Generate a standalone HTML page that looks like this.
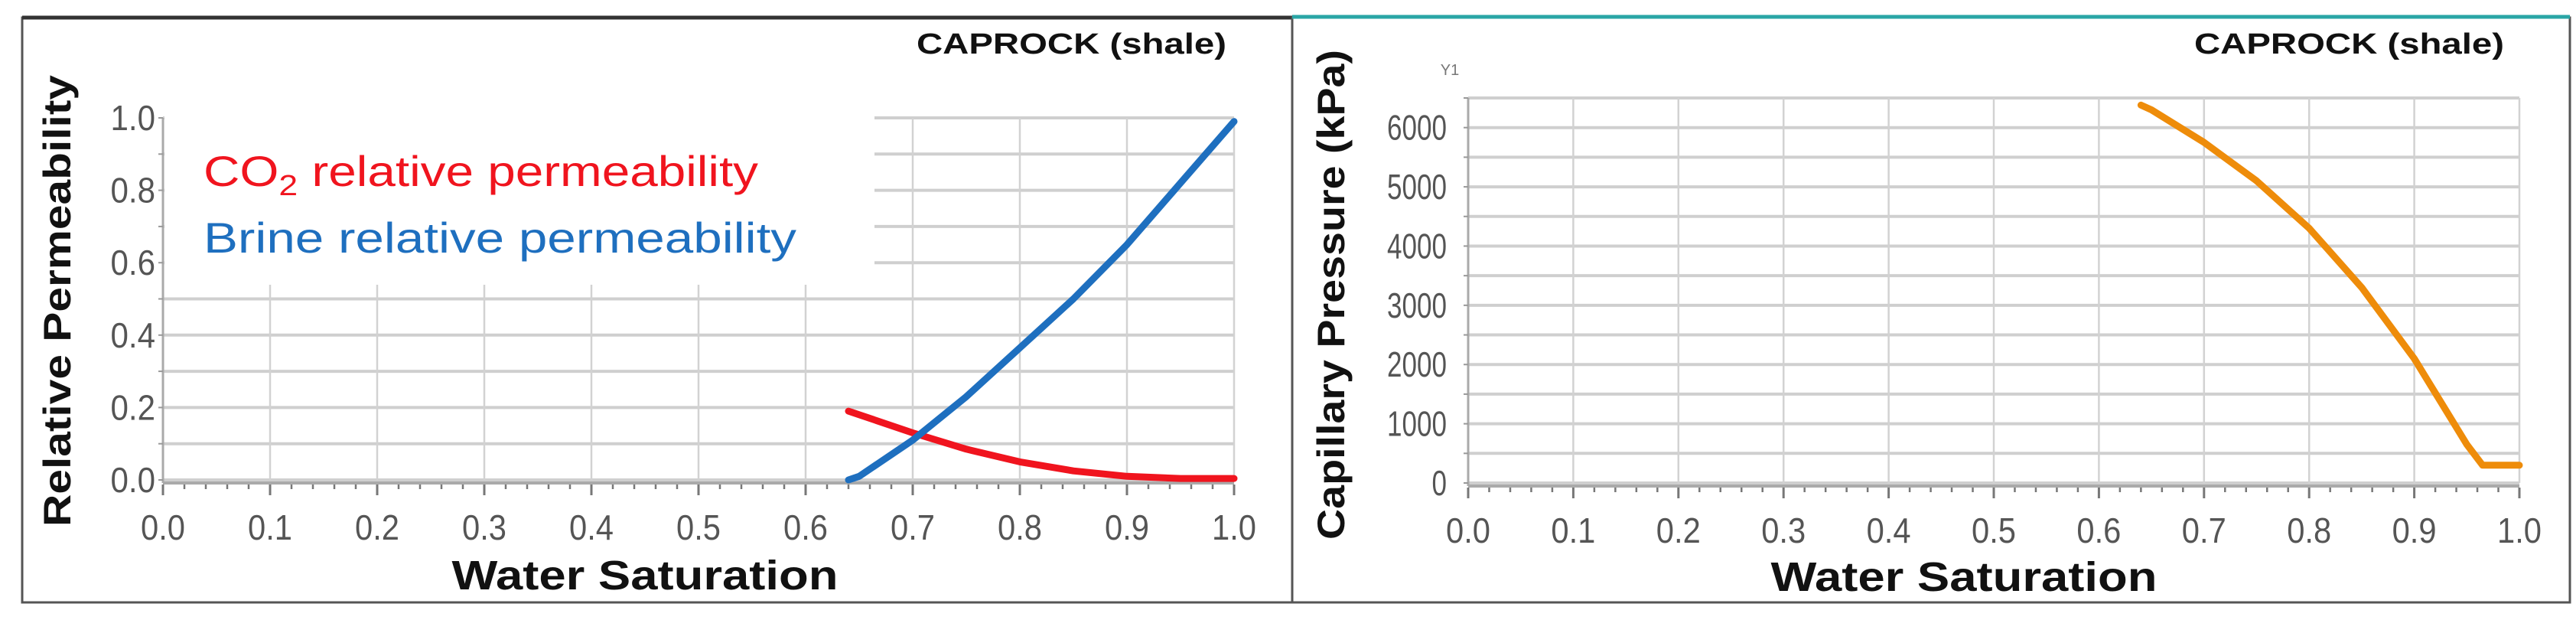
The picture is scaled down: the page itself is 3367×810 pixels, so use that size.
<!DOCTYPE html>
<html><head><meta charset="utf-8">
<style>
html,body{margin:0;padding:0;background:#fff;}
svg{display:block;}
text{font-family:"Liberation Sans",sans-serif;}
</style></head>
<body>
<svg id="root" width="3367" height="810" viewBox="0 0 3367 810" xmlns="http://www.w3.org/2000/svg">
<rect x="0" y="0" width="3367" height="810" fill="#fff"/>
<rect x="29" y="23" width="1660" height="764" fill="none" stroke="#555" stroke-width="3"/>
<line x1="29" y1="23" x2="1689" y2="23" stroke="#333" stroke-width="5"/>
<rect x="1689" y="23" width="1670" height="764" fill="none" stroke="#555" stroke-width="3"/>
<line x1="1689" y1="22" x2="3359" y2="22" stroke="#2aa6a6" stroke-width="5"/>
<g id="left"></g>
<g id="right"></g>
</svg>
<script>
// Left chart data
const krSw = [0.64, 0.65, 0.70, 0.75, 0.80, 0.85, 0.90, 0.95, 1.00];
const krBrine = [0.0, 0.01, 0.11, 0.23, 0.365, 0.50, 0.65, 0.82, 0.99];
const krCO2Sw = [0.64, 0.70, 0.75, 0.80, 0.85, 0.90, 0.95, 1.00];
const krCO2 = [0.19, 0.13, 0.085, 0.05, 0.025, 0.01, 0.004, 0.004];
const leftYTicks = ["0.0","0.2","0.4","0.6","0.8","1.0"];
const xTicks = ["0.0","0.1","0.2","0.3","0.4","0.5","0.6","0.7","0.8","0.9","1.0"];
// Right chart data
const pcSw = [0.64, 0.65, 0.70, 0.75, 0.80, 0.85, 0.90, 0.95, 0.965, 1.00];
const pcVal = [6380, 6300, 5750, 5100, 4300, 3300, 2100, 650, 300, 300];
const rightYTicks = ["0","1000","2000","3000","4000","5000","6000"];

const NS = "http://www.w3.org/2000/svg";
function mk(parent, tag, attrs, txt){
  const e = document.createElementNS(NS, tag);
  for (const k in attrs) e.setAttribute(k, attrs[k]);
  if (txt !== undefined) e.textContent = txt;
  parent.appendChild(e);
  return e;
}

function drawAxes(g, x0, x1, yTop, yBot, ymax, yMinor){
  const sx = v => x0 + (x1 - x0) * v;
  const sy = v => yBot - (yBot - yTop) * v / ymax;
  for (let v = 0; v <= ymax + 1e-9; v += yMinor){
    const l = mk(g, "line", {x1:x0, x2:x1, y1:sy(v), y2:sy(v), stroke:"#cfcfcf", "stroke-width":4});
    
    
  }
  for (let i = 0; i <= 10; i++){
    const l = mk(g, "line", {x1:sx(i/10), x2:sx(i/10), y1:yTop, y2:yBot, stroke:"#d2d2d2", "stroke-width":2.5});
    
    
  }
  return {sx, sy};
}
function drawFrame(g, x0, x1, yTop, yBot, sx, sy, ymax, yStep, yMinor, yTicks, labX){
  mk(g, "line", {x1:x0, x2:x1, y1:yBot+4, y2:yBot+4, stroke:"#aaa", "stroke-width":4});
  mk(g, "line", {x1:x0, x2:x0, y1:yTop, y2:yBot+4, stroke:"#aaa", "stroke-width":3});
  for (let i = 0; i <= 50; i++){
    const major = i % 5 === 0;
    mk(g, "line", {x1:sx(i/50), x2:sx(i/50), y1:yBot+6, y2:yBot+(major?20:12), stroke:"#777", "stroke-width":major?3:2.5});
  }
  for (let v = 0; v <= ymax + 1e-9; v += yMinor){
    mk(g, "line", {x1:x0-6, x2:x0, y1:sy(v), y2:sy(v), stroke:"#999", "stroke-width":2});
  }
  xTicks.forEach((t, i) => {
    const e = mk(g, "text", {x:sx(i/10), y:yBot+78, "text-anchor":"middle", "font-size":46, fill:"#555", textLength:58, lengthAdjust:"spacingAndGlyphs"}, t);
    
    
  });
  yTicks.forEach((t, i) => {
    const e = mk(g, "text", {x:labX, y:sy(i*yStep)+16, "text-anchor":"end", "font-size":46, fill:"#555", textLength:t.length*19.5, lengthAdjust:"spacingAndGlyphs"}, t);
    
    
  });
}
function poly(g, xs, ys, sx, sy, color, name){
  const pts = xs.map((x, i) => sx(x).toFixed(1) + "," + sy(ys[i]).toFixed(1)).join(" ");
  const p = mk(g, "polyline", {points:pts, fill:"none", stroke:color, "stroke-width":9, "stroke-linejoin":"round", "stroke-linecap":"round"});
  
  
}

// LEFT
(function(){
  const g = document.getElementById("left");
  const x0 = 213, x1 = 1613, yTop = 154, yBot = 627;
  const {sx, sy} = drawAxes(g, x0, x1, yTop, yBot, 1.0, 0.1);
  const box = mk(g, "rect", {x:x0+2, y:yTop-4, width:928, height:222, fill:"#fff"});
  
  
  drawFrame(g, x0, x1, yTop, yBot, sx, sy, 1.0, 0.2, 0.1, leftYTicks, 203);
  poly(g, krCO2Sw, krCO2, sx, sy, "#f0141e", "co2-kr-line");
  poly(g, krSw, krBrine, sx, sy, "#1e6fbf", "brine-kr-line");
  const l1 = mk(g, "text", {x:266, y:243, "font-size":56, fill:"#f0141e", textLength:725, lengthAdjust:"spacingAndGlyphs"});
  l1.innerHTML = 'CO<tspan font-size="38" dy="12">2</tspan><tspan dy="-12"> relative permeability</tspan>';
  
  
  const l2 = mk(g, "text", {x:266, y:330, "font-size":56, fill:"#1e6fbf", textLength:775, lengthAdjust:"spacingAndGlyphs"}, "Brine relative permeability");
  
  
  const t = mk(g, "text", {x:1198, y:70, "font-size":38, "font-weight":"bold", fill:"#111", textLength:405, lengthAdjust:"spacingAndGlyphs"}, "CAPROCK (shale)");
  
  
  const yt = mk(g, "text", {x:0, y:0, transform:"translate(92,393) rotate(-90)", "text-anchor":"middle", "font-size":50, "font-weight":"bold", fill:"#111", textLength:590, lengthAdjust:"spacingAndGlyphs"}, "Relative Permeability");
  
  
  const xt = mk(g, "text", {x:843, y:770, "text-anchor":"middle", "font-size":54, "font-weight":"bold", fill:"#111", textLength:505, lengthAdjust:"spacingAndGlyphs"}, "Water Saturation");
  
  
})();

// RIGHT
(function(){
  const g = document.getElementById("right");
  const x0 = 1919, x1 = 3293, yTop = 128, yBot = 631;
  const ymax = 6500;
  const {sx, sy} = drawAxes(g, x0, x1, yTop, yBot, ymax, 500);
  drawFrame(g, x0, x1, yTop, yBot, sx, sy, ymax, 1000, 500, rightYTicks, 1891);
  poly(g, pcSw, pcVal, sx, sy, "#ee8c0a", "capillary-pressure-line");
  const y1 = mk(g, "text", {x:1895, y:98, "font-size":20, fill:"#777", "text-anchor":"middle"}, "Y1");
  
  
  const t = mk(g, "text", {x:2868, y:70, "font-size":38, "font-weight":"bold", fill:"#111", textLength:405, lengthAdjust:"spacingAndGlyphs"}, "CAPROCK (shale)");
  
  
  const yt = mk(g, "text", {x:0, y:0, transform:"translate(1757,385) rotate(-90)", "text-anchor":"middle", "font-size":50, "font-weight":"bold", fill:"#111", textLength:640, lengthAdjust:"spacingAndGlyphs"}, "Capillary Pressure (kPa)");
  
  
  const xt = mk(g, "text", {x:2567, y:772, "text-anchor":"middle", "font-size":54, "font-weight":"bold", fill:"#111", textLength:505, lengthAdjust:"spacingAndGlyphs"}, "Water Saturation");
  
  
})();
</script>
</body></html>
